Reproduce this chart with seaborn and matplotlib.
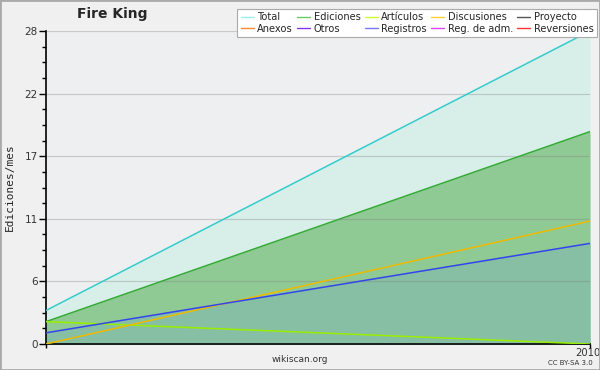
import matplotlib
matplotlib.use("Agg")
import matplotlib.pyplot as plt
import matplotlib.transforms as mtransforms
import seaborn as sns
import pandas as pd
import numpy as np
from matplotlib.lines import Line2D

# ---- data ----
x_pos = [0, 1]
x_tick_labels = ["", "2010"]
total = [3, 28]
ediciones = [2, 19]
articulos = [2, 0]
discusiones = [0, 11]
registros = [1, 9]

legend_labels = ["Total", "Ediciones", "Artículos", "Discusiones", "Proyecto",
                 "Anexos", "Otros", "Registros", "Reg. de adm.", "Reversiones"]
legend_colors = ["#99eeee", "#66cc66", "#ccff33", "#ffcc33", "#555555",
                 "#ff8833", "#8833ee", "#7777ff", "#dd44ee", "#ff3333"]

y_major = [0, 5.6, 11.2, 16.8, 22.4, 28]
y_major_labels = ["0", "6", "11", "17", "22", "28"]

df = pd.DataFrame({"x": x_pos, "Total": total, "Ediciones": ediciones,
                   "Artículos": articulos, "Discusiones": discusiones,
                   "Registros": registros})

sns.set_style("white")
plt.rcParams["font.family"] = ["DejaVu Sans"]

fig = plt.figure(figsize=(6, 3.7), dpi=100, facecolor="#f0f0f0")
ax = fig.add_axes([46/600, 1-344/370, 544/600, 313/370])
ax.set_facecolor("#eeeff1")

# fills
ax.fill_between(df["x"], 0, df["Total"], color="#d8efe9", zorder=1, lw=0)
ax.fill_between(df["x"], 0, df["Ediciones"], color="#8fc994", zorder=1, lw=0)
ax.fill_between(df["x"], 0, df["Registros"], color="#86bfa3", zorder=1, lw=0)

# lines
line_specs = [("Total", "#33cccc"), ("Ediciones", "#33aa33"),
              ("Artículos", "#99ee00"), ("Discusiones", "#eebb00"),
              ("Registros", "#3344ee")]
for col, c in line_specs:
    sns.lineplot(data=df, x="x", y=col, ax=ax, color=c, lw=1.1, zorder=3,
                 legend=False)

ax.set_xlim(0, 1)
ax.set_ylim(0, 28)
ax.set_yticks(y_major)
ax.set_yticklabels(y_major_labels)
ax.set_yticks(np.arange(0, 28.01, 1.4), minor=True)
ax.set_xticks(x_pos)
ax.set_xticklabels(x_tick_labels)
ax.tick_params(axis="y", which="major", length=5, width=1, color="black",
               labelsize=7.5, labelcolor="#333333", pad=1, left=True)
ax.tick_params(axis="y", which="minor", length=3, width=1, color="black", left=True)
ax.tick_params(axis="x", which="major", length=3, width=1, color="black",
               labelsize=7.2, labelcolor="#333333", pad=0, bottom=True)
shift = mtransforms.ScaledTranslation(-2.5/100, 0, fig.dpi_scale_trans)
for lbl in ax.get_xticklabels():
    lbl.set_transform(lbl.get_transform() + shift)
ax.grid(axis="y", which="major", color="#808080", alpha=0.35, lw=0.9)
ax.set_axisbelow(False)
for s in ["top", "right"]:
    ax.spines[s].set_visible(False)
for s in ["left", "bottom"]:
    ax.spines[s].set_color("black")
    ax.spines[s].set_linewidth(1.2)
ax.set_xlabel("")
ax.set_ylabel("")
fig.text(10/600, 1-187/370, "Ediciones/mes", family="DejaVu Sans Mono",
         fontsize=8, rotation=90, ha="center", va="center")

fig.text(112/600, 1-14/370, "Fire King", ha="center", va="center",
         fontsize=10, fontweight="bold")
fig.text(300/600, 1-360/370, "wikiscan.org", ha="center", va="center",
         fontsize=6.5, color="#333333")
fig.text(570/600, 1-363/370, "CC BY-SA 3.0", ha="center", va="center",
         fontsize=5, color="#333333")

# legend laid out row-wise (matplotlib fills columns first)
ncol, nrow = 5, 2
order = [r * ncol + c for c in range(ncol) for r in range(nrow)]
handles = [Line2D([0], [0], color=legend_colors[i], lw=1) for i in order]
labels = [legend_labels[i] for i in order]
leg = fig.legend(handles, labels, ncol=ncol, loc="upper right",
                 bbox_to_anchor=(597/600, 1-9/370), fontsize=7.1,
                 frameon=True, fancybox=False, edgecolor="#aaaaaa",
                 facecolor="white", framealpha=1, handlelength=1.3,
                 handletextpad=0.35, columnspacing=0.45, labelspacing=0.15,
                 borderpad=0.35, borderaxespad=0)
leg.get_frame().set_linewidth(0.8)

# outer border
fig.patches.append(plt.Rectangle((0, 0), 1, 1, transform=fig.transFigure,
                                 fill=False, edgecolor="#aaaaaa", lw=2))

fig.savefig("out.png", dpi=100, facecolor=fig.get_facecolor())
